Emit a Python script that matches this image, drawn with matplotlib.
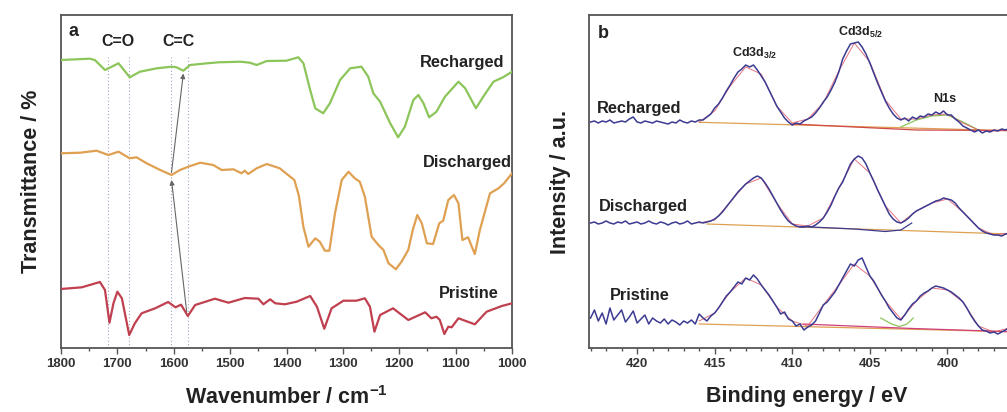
import numpy as np
import matplotlib
matplotlib.use("Agg")
import matplotlib.pyplot as plt
from matplotlib.ticker import MultipleLocator, FixedLocator

plt.rcParams['font.family'] = ['Liberation Sans', 'DejaVu Sans']
plt.rcParams['mathtext.fontset'] = 'custom'
plt.rcParams['mathtext.rm'] = 'Liberation Sans'
plt.rcParams['mathtext.bf'] = 'Liberation Sans:bold'
plt.rcParams['axes.unicode_minus'] = False

# ---- panel a: FTIR (wavenumber, transmittance in arbitrary offset units) ----
wn_recharged = [1800, 1749, 1740, 1722, 1710, 1698, 1678, 1660, 1630, 1604, 1595, 1583, 1571,
                1541, 1520, 1500, 1482, 1465, 1453, 1435, 1400, 1379, 1370, 1358, 1349, 1335,
                1323, 1305, 1287, 1267, 1255, 1246, 1234, 1216, 1202, 1190, 1175, 1166, 1157,
                1147, 1134, 1119, 1095, 1083, 1064, 1051, 1033, 1016, 1000]
t_recharged = [288, 289.3, 288, 278, 281.3, 284.7, 270.7, 276.3, 279.7, 281.3, 280.7, 277.3, 283,
               284.7, 285.7, 286, 286.3, 285.3, 283, 287, 287.3, 290.7, 284.7, 258, 239.7, 234.7,
               244.7, 268, 279.7, 281.3, 271.3, 254.7, 246.3, 224.7, 210.7, 221.3, 248, 253, 244.7,
               230.7, 236.3, 251.3, 266.3, 259.7, 239.7, 251.3, 266.3, 270.7, 276.3]

wn_discharged = [1800, 1766, 1737, 1716, 1698, 1678, 1666, 1648, 1624, 1604, 1589, 1574, 1553,
                 1530, 1515, 1494, 1480, 1474, 1468, 1453, 1435, 1412, 1395, 1386, 1378, 1370,
                 1361, 1349, 1341, 1332, 1324, 1314, 1302, 1290, 1279, 1270, 1261, 1249, 1237,
                 1228, 1219, 1206, 1196, 1184, 1176, 1168, 1160, 1151, 1140, 1129, 1122, 1113,
                 1103, 1095, 1088, 1078, 1066, 1057, 1039, 1024, 1014, 1000]
t_discharged = [194.7, 195.3, 197.3, 193, 196.3, 189.7, 190.7, 184.7, 178, 173, 178, 181.3, 185.3,
                183, 178, 178.7, 174.7, 177.3, 174, 179.7, 184, 179.7, 172, 168, 152, 121,
                101.3, 109.7, 106.3, 97.3, 97.3, 134.7, 168, 176.3, 169.7, 166.3, 151.3, 111.3, 103,
                98, 84.7, 78.7, 86.3, 98, 118, 133, 124.7, 104.7, 104, 124.7, 127.3, 148,
                153, 144.7, 108, 110.7, 94, 118, 154.7, 159.7, 164.7, 174.7]

wn_pristine = [1800, 1763, 1731, 1722, 1714, 1707, 1700, 1692, 1679, 1669, 1657, 1633, 1610,
               1597, 1587, 1575, 1562, 1527, 1503, 1474, 1450, 1441, 1429, 1420, 1403, 1382,
               1358, 1346, 1333, 1320, 1299, 1276, 1261, 1252, 1244, 1234, 1211, 1184, 1154,
               1143, 1134, 1128, 1120, 1113, 1107, 1095, 1066, 1045, 1018, 1000]
t_pristine = [59, 60.7, 66, 58, 25.3, 44.7, 56.3, 49.7, 13, 24.7, 34.7, 39.7, 46,
              40.7, 43.3, 32, 43, 49.3, 45.3, 50, 49.3, 43.7, 48.7, 44.7, 43.7, 46.3,
              52, 41.3, 19.3, 39.7, 47.3, 47.3, 49.7, 41.3, 16.3, 33, 39.7, 28, 35.7,
              29.7, 31.3, 28, 14, 21.3, 20.7, 29.7, 23.7, 36.3, 42, 44.7]

marker_wn = [1717, 1679, 1604, 1575]

# ---- panel b: XPS, binding energy 423.0 -> 396.0 eV in 0.25 eV steps ----
be_start, be_step = 423.0, 0.25
xps_recharged = [226, 227, 225, 227, 226, 228, 225, 226, 227, 226, 229, 231, 226, 225, 227,
                 226, 225, 227, 226, 225, 224, 226, 225, 228, 226, 225, 227, 226, 228,
                 228, 231, 234, 240, 244, 250, 257, 263, 270, 276, 279, 283, 281, 283, 278,
                 272, 266, 258, 250, 242, 236, 230, 226, 223, 225,
                 224, 227, 229, 231, 235, 240, 246, 251, 258, 266,
                 276, 289, 297, 304, 305, 306, 301, 294, 285, 275,
                 265, 256, 247, 240, 234, 230, 228, 230, 227, 231,
                 229, 232, 231, 234, 233, 236, 234, 237, 233, 233,
                 229, 226, 222, 220, 218, 216, 218, 215, 217, 216,
                 218, 217, 219, 218, 220]
xps_discharged = [125, 126, 124, 125, 127, 125, 124, 126, 125, 127, 124, 125, 126, 124, 125,
                  127, 125, 124, 126, 125, 123, 125, 126, 124, 125, 127, 124, 125, 126,
                  125, 126, 127, 129, 132, 136, 141, 146, 151, 156, 160, 164, 167, 170, 172,
                  170, 165, 159, 152, 145, 138, 132, 127, 124, 122,
                  121, 121, 122, 121, 123, 126, 130, 136, 143, 152,
                  160, 166, 175, 184, 189, 192, 190, 184, 175, 167,
                  158, 150, 142, 134, 129, 126, 125, 127, 130, 134,
                  137, 139, 141, 143, 145, 147, 148, 150, 149, 148,
                  145, 140, 136, 132, 128, 124, 120, 117, 115, 114,
                  113, 113, 112, 114, 115]
xps_pristine = [30, 38, 27, 35, 24, 40, 28, 33, 38, 26, 31, 37, 25, 29, 33,
                24, 30, 27, 25, 29, 24, 28, 26, 23, 27, 25, 28, 24, 34,
                30, 27, 32, 35, 40, 46, 52, 56, 61, 66, 64, 70, 68, 73, 69,
                63, 58, 53, 47, 41, 34, 36, 29, 27, 22,
                24, 18, 21, 23, 27, 35, 43, 46, 51, 56,
                63, 70, 77, 84, 82, 88, 90, 81, 72, 67,
                60, 53, 47, 40, 35, 30, 28, 33, 39, 44,
                47, 52, 55, 57, 60, 62, 61, 60, 58, 56,
                53, 50, 46, 40, 33, 27, 22, 18, 17, 15,
                16, 14, 16, 18, 21]

# smooth fit envelopes, 1 eV steps 416 -> 396
fit_be = [416, 415, 414, 413, 412, 411, 410, 409, 408, 407, 406, 405, 404, 403, 402, 401, 400,
          399, 398, 397, 396]
fit_recharged = [226, 237, 262, 281, 274, 242, 225, 229, 245, 277, 305, 286, 248, 229, 229, 233,
                 234, 225, 218, 217, 218]
fit_discharged = [125, 128, 146, 164, 170, 145, 124, 122, 130, 160, 189, 175, 142, 125, 137, 145,
                  149, 136, 120, 113, 115]
fit_pristine = [27, 35, 56, 70, 63, 41, 27, 22, 43, 63, 84, 72, 47, 29, 47, 60, 58, 46, 22, 16, 20]

# baselines / components
rech_base_be, rech_base = [416, 396], [225.7, 217.3]
rech_red_be, rech_red = [410, 402, 396], [224, 218, 217.5]
rech_n1s_be, rech_n1s = [403, 402, 401, 400, 399, 398], [221, 228, 232, 233, 226, 218]
dis_base_be, dis_base = [415.5, 396], [124, 114]
dis_comp_be, dis_comp = [409.5, 406, 404, 403, 402.3], [121.5, 119, 116.5, 118, 125]
pri_base_be, pri_base = [416, 396], [24, 16.3]
pri_mag_be, pri_mag = [409.3, 402.6, 396], [24, 19.7, 16.3]
pri_grn_be, pri_grn = [404.3, 403.6, 403.1, 402.6, 402.2], [30, 24, 21.5, 24, 30]

be_ticks = [420, 415, 410, 405, 400]

GREEN = '#8cc55a'
ORANGE = '#dfa052'
RED = '#c0404f'
NAVY = '#3b3b92'
TXT = '#222222'
SPINE = '#555555'

fig = plt.figure(figsize=(10.07, 4.12), dpi=100)
ax1 = fig.add_axes([61 / 1007, 1 - 348 / 412, 451 / 1007, 333 / 412])
ax2 = fig.add_axes([589 / 1007, 1 - 348 / 412, 436 / 1007, 333 / 412])

for ax in (ax1, ax2):
    for s in ax.spines.values():
        s.set_color(SPINE)
        s.set_linewidth(1.3)
    ax.set_yticks([])
    ax.set_ylim(0, 333)
    ax.tick_params(axis='x', which='major', direction='out', length=4, width=1,
                   color=SPINE, labelsize=9.5, labelcolor='#333333', pad=3)
    ax.tick_params(axis='x', which='minor', direction='out', length=2.5, width=1, color=SPINE)

# panel a
for w in marker_wn:
    ax1.plot([w, w], [0, 291], ls=(0, (1, 2)), color='#9aa6c0', lw=0.8, zorder=1)
ax1.plot(wn_recharged, t_recharged, color=GREEN, lw=1.6, zorder=3)
ax1.plot(wn_discharged, t_discharged, color=ORANGE, lw=1.6, zorder=3)
ax1.plot(wn_pristine, t_pristine, color=RED, lw=1.6, zorder=3)
arrow = dict(arrowstyle='-|>', color='#666666', lw=0.8, mutation_scale=7, shrinkA=0, shrinkB=0)
ax1.annotate('', xy=(1583, 274.5), xytext=(1604, 175.5), arrowprops=arrow, zorder=4)
ax1.annotate('', xy=(1604, 168), xytext=(1577, 36), arrowprops=arrow, zorder=4)
ax1.set_xlim(1800, 1000)
ax1.xaxis.set_major_locator(MultipleLocator(100))
ax1.xaxis.set_minor_locator(MultipleLocator(50))
for lab in ax1.get_xticklabels():
    lab.set_fontweight('bold')
ax1.set_xlabel('Wavenumber / cm$^{\\mathbf{-1}}$', fontsize=15.5, fontweight='bold',
               color=TXT, labelpad=12)
ax1.set_ylabel('Transmittance / %', fontsize=15.5, fontweight='bold', color=TXT, labelpad=14)
ax1.text(0.028, 0.95, 'a', transform=ax1.transAxes, fontsize=13, fontweight='bold',
         color=TXT, va='center', ha='center')
ax1.text(1717 - 18, 306, 'C=O', fontsize=11.5, fontweight='bold', color=TXT, ha='center', va='center')
ax1.text(1604 - 12, 306, 'C=C', fontsize=11.5, fontweight='bold', color=TXT, ha='center', va='center')
ax1.text(1089, 286, 'Recharged', fontsize=11.8, fontweight='bold', color=TXT, ha='center', va='center')
ax1.text(1080, 185, 'Discharged', fontsize=11.8, fontweight='bold', color=TXT, ha='center', va='center')
ax1.text(1076, 55, 'Pristine', fontsize=11.8, fontweight='bold', color=TXT, ha='center', va='center')

# panel b
be = be_start - be_step * np.arange(len(xps_recharged))
for base_be, base_v, col in [(rech_base_be, rech_base, ORANGE), (rech_red_be, rech_red, '#d04848'),
                             (dis_base_be, dis_base, ORANGE), (pri_base_be, pri_base, ORANGE),
                             (pri_mag_be, pri_mag, '#d0407a')]:
    ax2.plot(base_be, base_v, color=col, lw=0.9, zorder=2)
ax2.plot(rech_n1s_be, rech_n1s, color=GREEN, lw=0.9, zorder=2)
ax2.plot(pri_grn_be, pri_grn, color=GREEN, lw=0.9, zorder=2)
ax2.plot(dis_comp_be, dis_comp, color=NAVY, lw=0.9, zorder=2)
for fit in (fit_recharged, fit_discharged, fit_pristine):
    ax2.plot(fit_be, fit, color='#e05060', lw=0.7, alpha=0.8, zorder=2)
for spec in (xps_recharged, xps_discharged, xps_pristine):
    ax2.plot(be, spec, color=NAVY, lw=1.1, zorder=3)
ax2.set_xlim(423.1, 395.0)
ax2.xaxis.set_major_locator(FixedLocator(be_ticks))
ax2.xaxis.set_minor_locator(MultipleLocator(1))
for lab in ax2.get_xticklabels():
    lab.set_fontweight('bold')
ax2.set_xlabel('Binding energy / eV', fontsize=15.5, fontweight='bold', color=TXT, labelpad=12)
ax2.text(-0.065, 0.5, 'Intensity / a.u.', transform=ax2.transAxes, rotation=90,
         fontsize=15.5, fontweight='bold', color=TXT, ha='center', va='center')
ax2.text(422.2, 315, 'b', fontsize=13, fontweight='bold', color=TXT, ha='center', va='center')
ax2.text(412.4, 295, 'Cd3d$_{\\mathbf{3/2}}$', fontsize=9, fontweight='bold', color=TXT,
         ha='center', va='center')
ax2.text(405.6, 316, 'Cd3d$_{\\mathbf{5/2}}$', fontsize=9, fontweight='bold', color=TXT,
         ha='center', va='center')
ax2.text(400.2, 249, 'N1s', fontsize=9, fontweight='bold', color=TXT, ha='center', va='center')
ax2.text(419.9, 240, 'Recharged', fontsize=11.8, fontweight='bold', color=TXT, ha='center', va='center')
ax2.text(419.6, 141, 'Discharged', fontsize=11.8, fontweight='bold', color=TXT, ha='center', va='center')
ax2.text(419.8, 52, 'Pristine', fontsize=11.8, fontweight='bold', color=TXT, ha='center', va='center')

fig.savefig('out.png', dpi=100)
